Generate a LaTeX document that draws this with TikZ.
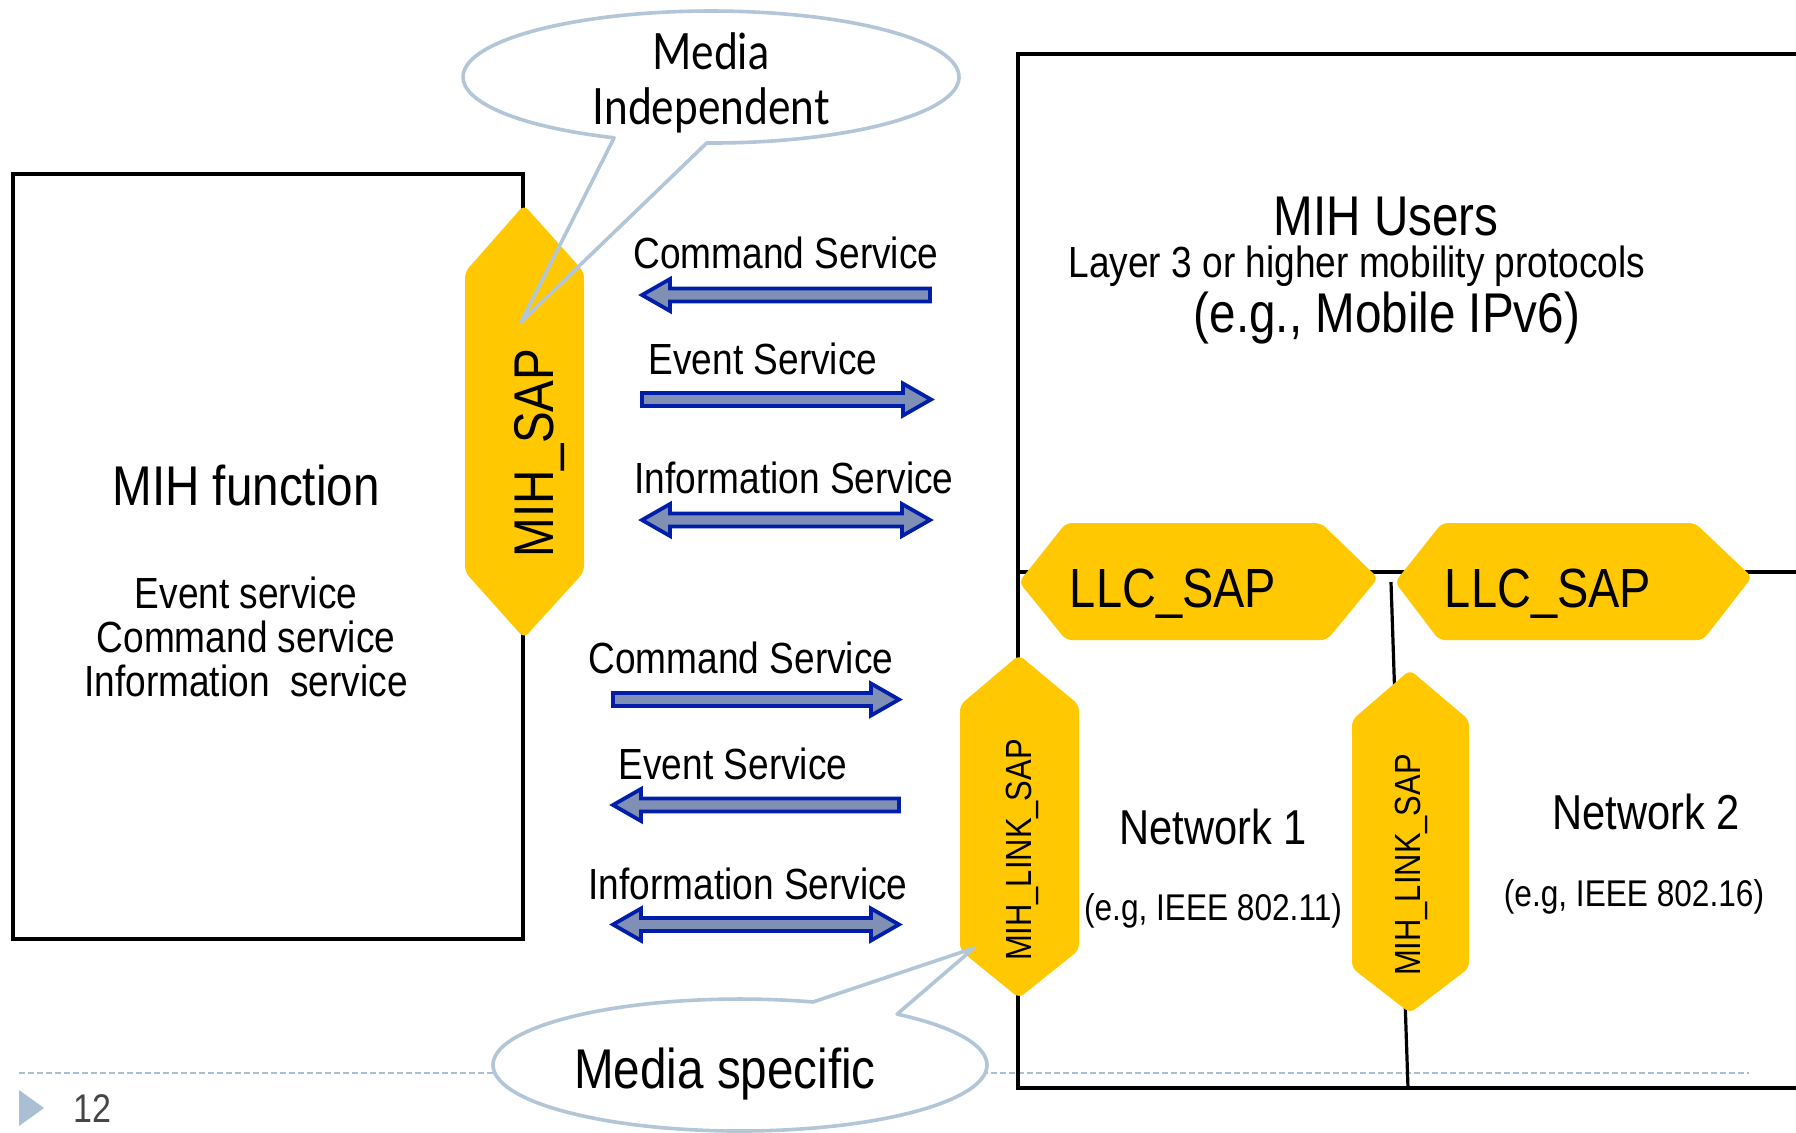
\documentclass[tikz,border=0pt]{standalone}
\usepackage{fontspec}
\setmainfont{Liberation Sans}[FakeStretch=0.85]
\newfontfamily\calloutfont{Lato}[FakeStretch=0.85]
\definecolor{sapyellow}{RGB}{255,200,0}
\definecolor{arrowedge}{RGB}{0,30,170}
\definecolor{arrowfill}{RGB}{128,144,180}
\definecolor{calloutedge}{RGB}{178,198,216}
\definecolor{footerblue}{RGB}{170,190,212}
\definecolor{pagenum}{RGB}{70,70,70}

% service arrows: tail/tip x, centre y
\newcommand{\SvcRight}[3]{%
  \draw[svcarrow] (#1,#3-6.5) -- (#2-28,#3-6.5) -- (#2-28,#3-16) -- (#2,#3)
    -- (#2-28,#3+16) -- (#2-28,#3+6.5) -- (#1,#3+6.5) -- cycle;}
\newcommand{\SvcLeft}[3]{%
  \draw[svcarrow] (#1,#3) -- (#1+28,#3-16) -- (#1+28,#3-6.5) -- (#2,#3-6.5)
    -- (#2,#3+6.5) -- (#1+28,#3+6.5) -- (#1+28,#3+16) -- cycle;}
\newcommand{\SvcBoth}[3]{%
  \draw[svcarrow] (#1,#3) -- (#1+28,#3-16) -- (#1+28,#3-6.5) -- (#2-28,#3-6.5)
    -- (#2-28,#3-16) -- (#2,#3) -- (#2-28,#3+16) -- (#2-28,#3+6.5)
    -- (#1+28,#3+6.5) -- (#1+28,#3+16) -- cycle;}

\begin{document}
\begin{tikzpicture}[x=0.5pt,y=-0.5pt,
  boxline/.style={line width=1.6pt,black},
  sapfill/.style={fill=sapyellow,rounded corners=3pt},
  svcarrow/.style={draw=arrowedge,fill=arrowfill,line width=1.9pt,line join=miter},
  callout/.style={draw=calloutedge,line width=1.8pt,line join=round},
  tsvc/.style={anchor=base,inner sep=0pt,font=\fontsize{21.8}{26}\selectfont},
  tbig/.style={anchor=base,inner sep=0pt,font=\fontsize{28}{32}\selectfont},
  tnet/.style={anchor=base,inner sep=0pt,font=\fontsize{24.5}{28}\selectfont},
  tsmall/.style={anchor=base,inner sep=0pt,font=\fontsize{18.6}{22}\selectfont},
  tsap/.style={anchor=base,inner sep=0pt,font=\fontsize{27.6}{32}\selectfont},
  tlink/.style={anchor=base,inner sep=0pt,rotate=90,font=\fontsize{18.2}{22}\selectfont},
]
\useasboundingbox (0,0) rectangle (1796,1132);

% footer rule and page marker
\draw[footerblue,line width=1.2pt,dash pattern=on 3pt off 1.5pt] (19,1073) -- (1749,1073);
\fill[footerblue] (19,1090) -- (44,1108) -- (19,1126) -- cycle;
\node[anchor=base west,inner sep=0pt,text=pagenum,font=\fontsize{20}{24}\selectfont] (page) at (73,1122) {12};

% MIH function box
\draw[boxline] (13,174) rectangle (523,939);

% MIH users box and its network partitions
\draw[boxline] (1800,54) -- (1018,54) -- (1018,1088) -- (1800,1088);
\draw[boxline] (1018,572) -- (1800,572);
\draw[boxline] (1391,582) -- (1408,1088);

% service access points
\path[sapfill] (524,205) -- (584,272) -- (584,572) -- (524,638) -- (465,572) -- (465,272) -- cycle;
\path[sapfill] (1019,582) -- (1066,523) -- (1321,523) -- (1378,578) -- (1327,640) -- (1066,640) -- cycle;
\path[sapfill] (1395,582) -- (1442,523) -- (1695,523) -- (1752,577) -- (1703,640) -- (1439,640) -- cycle;
\path[sapfill] (1019,655) -- (1079,705) -- (1079,950) -- (1019,998) -- (960,950) -- (960,705) -- cycle;
\path[sapfill] (1410,670) -- (1469,720) -- (1469,968) -- (1410,1013) -- (1352,968) -- (1352,720) -- cycle;

% primitives between MIH function and MIH users
\SvcLeft{642}{930}{295}
\SvcRight{642}{931}{399.5}
\SvcBoth{642}{930}{520}
% primitives between MIH function and the link layer
\SvcRight{613}{899}{699.5}
\SvcLeft{613}{899}{805}
\SvcBoth{613}{899}{924.5}

% callouts
\fill[white] (711,77) ellipse [x radius=248, y radius=66];
\draw[callout] (706.7,143) arc[start angle=91, end angle=-247, x radius=248, y radius=66]
  -- (521,322) -- cycle;
\fill[white] (740,1065) ellipse [x radius=247, y radius=66];
\draw[callout] (897.1,1014.1) arc[start angle=-50.5, end angle=287.2, x radius=247, y radius=66]
  -- (974,948) -- cycle;

% labels
\node[tsvc] (cs1) at (786,268) {Command Service};
\node[tsvc] (es1) at (763,374) {Event Service};
\node[tsvc] (is1) at (794,493) {Information Service};
\node[tsvc] (cs2) at (741,673) {Command Service};
\node[tsvc] (es2) at (733,779) {Event Service};
\node[tsvc] (is2) at (748,899) {Information Service};

\node[tbig] (mihf) at (246,505) {MIH function};
\node[tsvc] (mf1) at (246,608) {Event service};
\node[tsvc] (mf2) at (246,652) {Command service};
\node[tsvc] (mf3) at (246,696) {Information\ \ service};

\node[tbig] (users) at (1386,235) {MIH Users};
\node[tsvc] (layer) at (1357,277) {Layer 3 or higher mobility protocols};
\node[tbig] (mip) at (1387,332) {(e.g., Mobile IPv6)};

\node[tnet] (net1) at (1213,844) {Network 1};
\node[tsmall] (net1eg) at (1213,920) {(e.g, IEEE 802.11)};
\node[tnet] (net2) at (1646,829) {Network 2};
\node[tsmall] (net2eg) at (1634,906) {(e.g, IEEE 802.16)};

\node[tsap] (llc1) at (1173,607) {LLC\_SAP};
\node[tsap] (llc2) at (1548,607) {LLC\_SAP};
\node[tbig,rotate=90] (mihsap) at (553,453) {MIH\_SAP};
\node[tlink] (link1) at (1031,850) {MIH\_LINK\_SAP};
\node[tlink] (link2) at (1420,865) {MIH\_LINK\_SAP};

\node[anchor=base,inner sep=0pt,font=\calloutfont\fontsize{25}{30}\selectfont] (mi1) at (711,69) {Media};
\node[anchor=base,inner sep=0pt,font=\calloutfont\fontsize{25}{30}\selectfont] (mi2) at (711,124) {Independent};
\node[tbig] (ms) at (725,1088) {Media specific};
\end{tikzpicture}
\end{document}
